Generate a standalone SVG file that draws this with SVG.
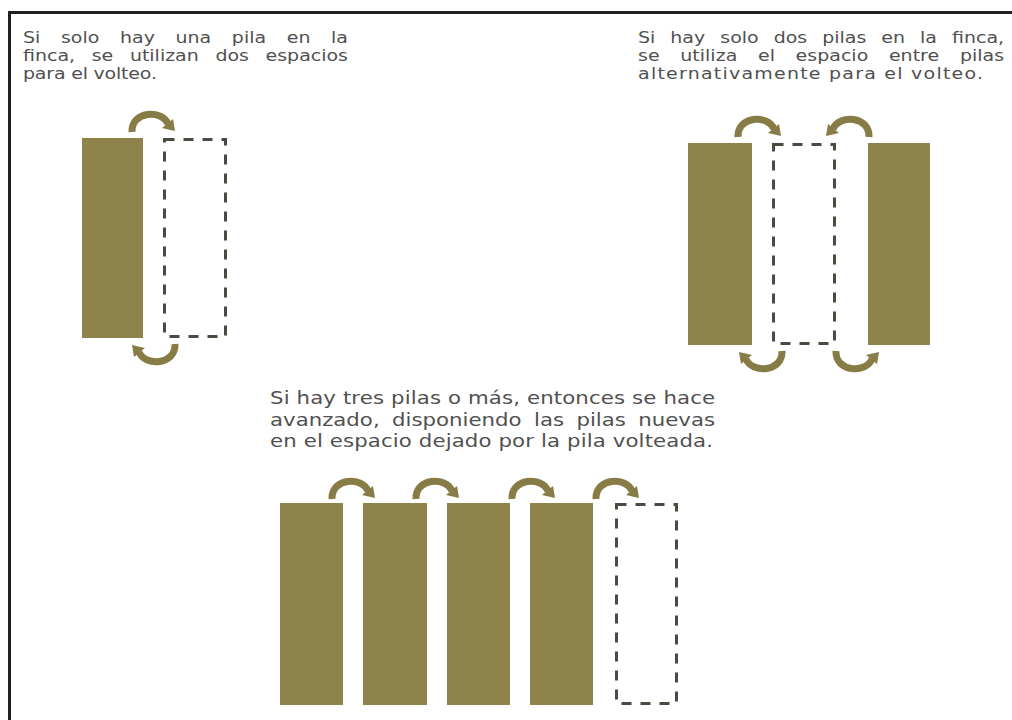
<svg xmlns="http://www.w3.org/2000/svg" width="1012" height="720" viewBox="0 0 1012 720">
<style>
.txt{font-family:"DejaVu Sans","Liberation Sans",sans-serif;fill:#505050;}
.t1{font-size:16.5px;}
.t3{font-size:18.5px;}
.pile{fill:#8e834a;}
.space{fill:none;stroke:#4a4a40;stroke-width:3;stroke-dasharray:10 9;}
.frame{stroke:#222;stroke-width:3;fill:none;}
</style>
<defs>
<g id="turn">
<path d="M5 0 C4 -21 35 -23 41 -8" fill="none" stroke="#877c45" stroke-width="7"/>
<polygon points="35,-4 46,-13 48,-1" fill="#877c45"/>
</g>
</defs>
<rect width="1012" height="720" fill="#fff"/>
<path class="frame" d="M9.5 720 V12.5 H1012"/>

<g id="text-one-pile" class="txt t1" transform="scale(1.15,1)">
<text x="20" y="43" word-spacing="12.7" textLength="282.6" lengthAdjust="spacing">Si solo hay una pila en la</text>
<text x="20" y="61" word-spacing="9.2" textLength="282.6" lengthAdjust="spacing">finca, se utilizan dos espacios</text>
<text x="20" y="79" textLength="116.5" lengthAdjust="spacing">para el volteo.</text>
</g>
<g id="text-two-piles" class="txt t1" transform="scale(1.15,1)">
<text x="554.8" y="43" word-spacing="7.8" textLength="318.3" lengthAdjust="spacing">Si hay solo dos pilas en la finca,</text>
<text x="554.8" y="61" word-spacing="12.7" textLength="318.3" lengthAdjust="spacing">se utiliza el espacio entre pilas</text>
<text x="554.8" y="79" textLength="300" lengthAdjust="spacing">alternativamente para el volteo.</text>
</g>
<g id="text-three-piles" class="txt t3" transform="scale(1.15,1)">
<text x="234.8" y="404" textLength="387" lengthAdjust="spacing">Si hay tres pilas o más, entonces se hace</text>
<text x="234.8" y="426" word-spacing="4.9" textLength="387" lengthAdjust="spacing">avanzado, disponiendo las pilas nuevas</text>
<text x="234.8" y="447" textLength="385.2" lengthAdjust="spacing">en el espacio dejado por la pila volteada.</text>
</g>

<g id="diagram-one-pile">
<rect id="pile-a1" class="pile" x="82" y="138" width="61" height="200"/>
<rect id="space-a1" class="space" x="164.5" y="139.5" width="61" height="197"/>
</g>
<g id="diagram-two-piles">
<rect id="pile-b1" class="pile" x="688" y="143" width="64" height="202"/>
<rect id="space-b1" class="space" x="773.5" y="144.5" width="61" height="199"/>
<rect id="pile-b2" class="pile" x="868" y="143" width="62" height="202"/>
</g>
<g id="diagram-three-piles">
<rect id="pile-c1" class="pile" x="280" y="503" width="63" height="202"/>
<rect id="pile-c2" class="pile" x="363" y="503" width="64" height="202"/>
<rect id="pile-c3" class="pile" x="447" y="503" width="63" height="202"/>
<rect id="pile-c4" class="pile" x="530" y="503" width="63" height="202"/>
<rect id="space-c1" class="space" x="616.5" y="504.5" width="60" height="199"/>
</g>

<g id="connectors">
<use href="#turn" transform="translate(127,132)"/>
<use href="#turn" transform="translate(180,344) rotate(180)"/>
<use href="#turn" transform="translate(733,137)"/>
<use href="#turn" transform="translate(874,137) scale(-1,1)"/>
<use href="#turn" transform="translate(787,351) rotate(180)"/>
<use href="#turn" transform="translate(831,351) scale(1,-1)"/>
<use href="#turn" transform="translate(327,499)"/>
<use href="#turn" transform="translate(411,499)"/>
<use href="#turn" transform="translate(507,499)"/>
<use href="#turn" transform="translate(591,499)"/>
</g>
</svg>
